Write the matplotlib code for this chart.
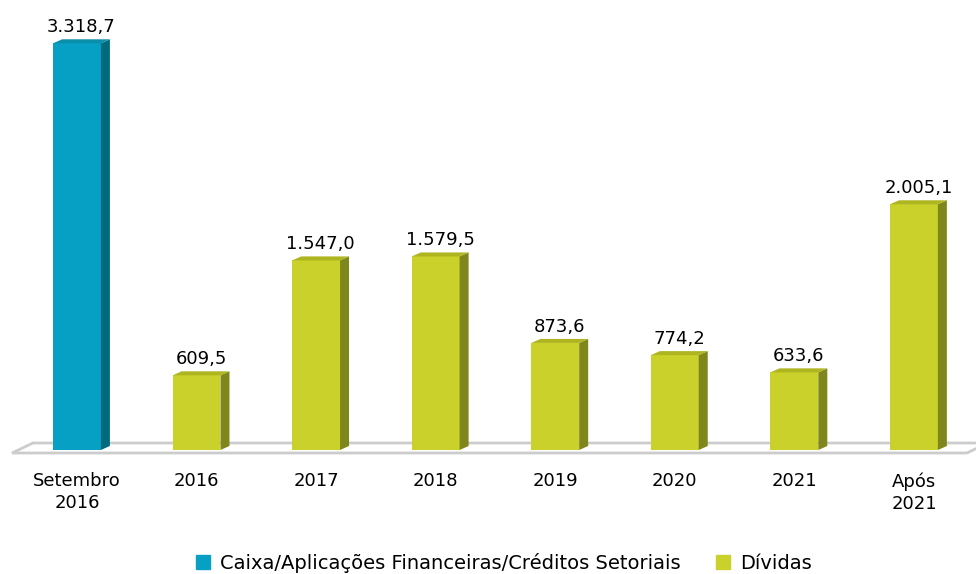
import numpy as np
import matplotlib.pyplot as plt
from matplotlib.patches import Polygon, Patch

categories = ['Setembro\n2016', '2016', '2017', '2018', '2019', '2020', '2021', 'Após\n2021']
values = [3318.7, 609.5, 1547.0, 1579.5, 873.6, 774.2, 633.6, 2005.1]
value_labels = ['3.318,7', '609,5', '1.547,0', '1.579,5', '873,6', '774,2', '633,6', '2.005,1']
groups = [0, 1, 1, 1, 1, 1, 1, 1]
series = ['Caixa/Aplicações Financeiras/Créditos Setoriais', 'Dívidas']

front = ['#05a0c4', '#c9d12a']
side = ['#016b7d', '#7f871c']
top = ['#0b8ea9', '#aeb521']

plt.rcParams['font.family'] = 'DejaVu Sans'

fig = plt.figure(figsize=(9.76, 5.74), dpi=100)
ax = fig.add_axes([0, 124 / 574, 1, 450 / 574])
ax.set_xlim(-0.644, 7.519)
ax.set_ylim(0, 3672)
px = 1 / 119.57   # data units per pixel, x
py = 8.16         # data units per pixel, y

x = np.arange(len(values))
w = 0.40
dx, dy = 9 * px, 4 * py

# floor
floor = Polygon([(-0.544, -3 * py), (7.443, -3 * py), (7.443 + 21 * px, 7 * py),
                 (-0.544 + 21 * px, 7 * py)], closed=True, facecolor='white',
                edgecolor='#cccccc', lw=2, zorder=1, clip_on=False)
ax.add_patch(floor)

ax.bar(x, values, width=w, color=[front[g] for g in groups], zorder=3)
for xi, v, g, lab in zip(x, values, groups, value_labels):
    r = xi + w / 2
    l = xi - w / 2
    ax.add_patch(Polygon([(r, 0), (r + dx, dy), (r + dx, v + dy), (r, v)],
                         closed=True, color=side[g], zorder=3, lw=0))
    ax.add_patch(Polygon([(l, v), (l + dx, v + dy), (r + dx, v + dy), (r, v)],
                         closed=True, color=top[g], zorder=3, lw=0))
    ax.annotate(lab, (xi + dx / 2, v + dy), xytext=(0, 5), textcoords='offset points',
                ha='center', va='baseline', fontsize=13)

ax.set_xticks(x, categories)
ax.set_yticks([])
ax.tick_params(axis='x', length=0, pad=16, labelsize=13)
for t in ax.get_xticklabels():
    t.set_linespacing(1.3)
for s in ax.spines.values():
    s.set_visible(False)
ax.patch.set_alpha(0)

handles = [Patch(color=front[0]), Patch(color=front[1])]
fig.legend(handles, series, loc='lower center', bbox_to_anchor=(0.516, -0.028), ncol=2,
           frameon=False, fontsize=14, handlelength=0.75, handleheight=0.75,
           columnspacing=1.8, handletextpad=0.5)

fig.savefig('out.png', dpi=100)
